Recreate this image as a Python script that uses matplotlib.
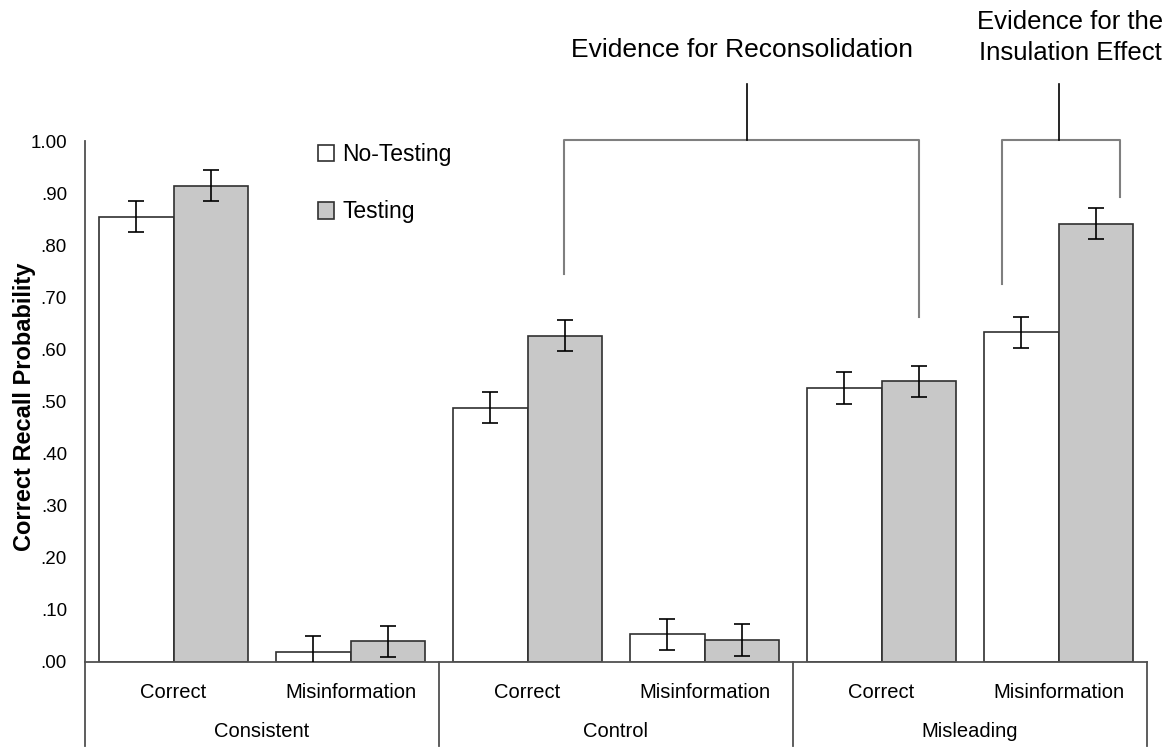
import matplotlib.pyplot as plt
import numpy as np

plt.rcParams['font.family'] = ['Liberation Sans', 'DejaVu Sans']

# sub-categories (x tick labels) and groups
sub_labels = ["Correct", "Misinformation", "Correct", "Misinformation", "Correct", "Misinformation"]
groups = ["Consistent", "Control", "Misleading"]

# correct recall probability
no_testing = [0.855, 0.019, 0.488, 0.053, 0.526, 0.633]
testing = [0.914, 0.040, 0.626, 0.042, 0.539, 0.841]
no_testing_err = [0.030, 0.030, 0.030, 0.030, 0.030, 0.030]
testing_err = [0.030, 0.030, 0.030, 0.030, 0.030, 0.030]

yticks = [0.0, 0.1, 0.2, 0.3, 0.4, 0.5, 0.6, 0.7, 0.8, 0.9, 1.0]
ytick_labels = [".00", ".10", ".20", ".30", ".40", ".50", ".60", ".70", ".80", ".90", "1.00"]

fig = plt.figure(figsize=(11.68, 7.53), dpi=100)
ax = fig.add_axes([85 / 1168, 1 - 662 / 753, 1062 / 1168, 521 / 753])

x = np.arange(len(sub_labels))
w = 0.42
edge = '#303030'
b1 = ax.bar(x - w / 2, no_testing, w, color='white', edgecolor=edge, linewidth=1.2,
            label='No-Testing', zorder=2)
b2 = ax.bar(x + w / 2, testing, w, color='#c8c8c8', edgecolor=edge, linewidth=1.2,
            label='Testing', zorder=2)
ax.errorbar(x - w / 2, no_testing, yerr=no_testing_err, fmt='none', ecolor='black',
            elinewidth=1.2, capsize=6, capthick=1.2, zorder=3)
ax.errorbar(x + w / 2, testing, yerr=testing_err, fmt='none', ecolor='black',
            elinewidth=1.2, capsize=6, capthick=1.2, zorder=3)

ax.set_xlim(-0.5, len(sub_labels) - 0.5)
ax.set_ylim(0, 1.0)
ax.set_yticks(yticks)
ax.set_yticklabels(ytick_labels, fontsize=13.5)
ax.tick_params(axis='y', length=0, pad=13)
ax.set_xticks([])
for s in ['top', 'right']:
    ax.spines[s].set_visible(False)
for s in ['left', 'bottom']:
    ax.spines[s].set_color('#505050')
    ax.spines[s].set_linewidth(1.3)

ax.set_ylabel("Correct Recall Probability", fontsize=17, fontweight='bold')
ax.yaxis.set_label_coords(-0.046, 0.49)

# multi-level category axis
trans = ax.get_xaxis_transform()
for i, lab in enumerate(sub_labels):
    ax.text(x[i], -0.058, lab, transform=trans, ha='center', va='center', fontsize=14.5)
for g, name in enumerate(groups):
    ax.text(2 * g + 0.5, -0.134, name, transform=trans, ha='center', va='center', fontsize=14.5)
for xb in [-0.5, 1.5, 3.5, 5.5]:
    ax.plot([xb, xb], [0, -0.161], transform=trans, color='#505050', lw=1.3, clip_on=False)

# legend
ax.legend(loc='upper left', bbox_to_anchor=(0.219, 0.996), frameon=False, fontsize=16.5,
          handlelength=0.72, handleheight=0.72, handletextpad=0.35, labelspacing=1.5,
          borderpad=0, borderaxespad=0)

# brackets
br = '#7f7f7f'
ax.plot([2.206, 2.206, 4.212, 4.212], [0.745, 1.002, 1.002, 0.662], color=br, lw=1.5, clip_on=False)
ax.plot([3.24, 3.24], [1.002, 1.109], color='black', lw=1.2, clip_on=False)
ax.plot([4.681, 4.681, 5.347, 5.347], [0.726, 1.002, 1.002, 0.893], color=br, lw=1.5, clip_on=False)
ax.plot([5.003, 5.003], [1.002, 1.109], color='black', lw=1.2, clip_on=False)
ax.text(3.21, 1.175, "Evidence for Reconsolidation", ha='center', va='center', fontsize=19)
ax.text(5.065, 1.198, "Evidence for the\nInsulation Effect", ha='center', va='center',
        fontsize=18.5, linespacing=1.38)

fig.savefig("out.png", dpi=100)
